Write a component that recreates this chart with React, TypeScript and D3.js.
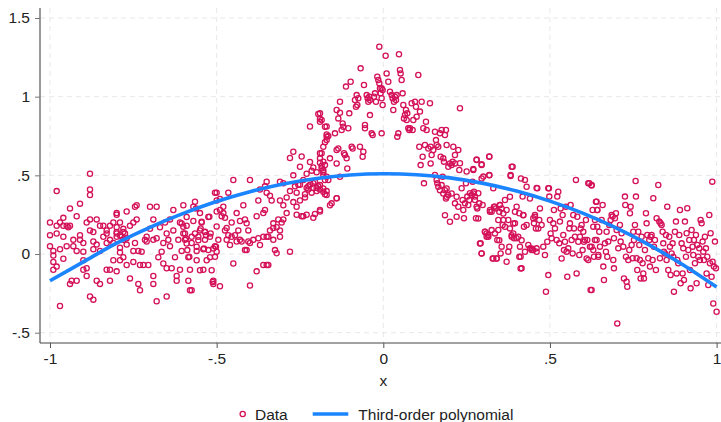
import { useEffect, useRef } from 'react';
import * as d3 from 'd3';

// scatter values, left flank (x < -0.4)
const leftData: [number, number][] = [
  [-1.0,0.2],[-1.0,0.12],[-1.0,0.05],[-0.99,0.02],[-0.99,-0.01],[-0.99,-0.05],[-0.98,-0.08],[-0.99,-0.1],[-0.98,0.13],[-0.98,0.4],
  [-0.97,-0.33],[-0.98,0.18],[-0.97,0.2],[-0.97,0.03],[-0.96,-0.03],[-0.96,0.18],[-0.96,0.23],[-0.96,0.11],[-0.95,0.18],[-0.95,0.05],
  [-0.945,0.17],[-0.94,-0.19],[-0.94,0.29],[-0.935,-0.17],[-0.94,0.18],[-0.93,0.09],[-0.93,0.05],[-0.92,0.02],[-0.92,0.24],[-0.92,-0.17],
  [-0.91,0.12],[-0.91,0.32],[-0.91,0.09],[-0.9,0.07],
  [-0.9,0.015],[-0.9,-0.04],[-0.9,-0.1],[-0.89,-0.09],[-0.89,0.2],[-0.88,0.22],[-0.88,0.51],[-0.88,0.41],[-0.88,0.375],[-0.88,0.15],
  [-0.87,0.14],[-0.87,0.03],[-0.87,0.08],[-0.86,0.22],[-0.86,0.06],[-0.88,-0.27],[-0.87,-0.29],[-0.89,-0.14],[-0.86,-0.17],[-0.85,0.02],
  [-0.85,0.18],[-0.85,-0.19],[-0.84,0.18],[-0.84,0.11],[-0.83,0.15],[-0.83,-0.1],[-0.83,0.13],[-0.83,0.07],[-0.82,0.18],[-0.82,0.09],
  [-0.82,-0.1],[-0.82,-0.17],[-0.81,0.07],[-0.81,0.2],[-0.81,-0.04],[-0.8,0.25],[-0.8,0.26],[-0.8,0.11],[-0.8,0.13],
  [-0.8,0.14],[-0.79,0.04],[-0.79,0.01],[-0.8,-0.11],[-0.79,-0.04],[-0.79,0.2],[-0.78,0.09],[-0.78,0.14],[-0.78,-0.02],[-0.77,-0.07],
  [-0.77,0.27],[-0.77,0.1],[-0.76,-0.155],[-0.76,0.18],[-0.75,0.02],[-0.75,0.2],[-0.75,-0.05],[-0.745,0.3],[-0.745,0.07],[-0.74,0.22],
  [-0.74,0.31],[-0.735,0.02],[-0.735,-0.19],[-0.73,-0.23],[-0.73,-0.07],[-0.725,0.015],[-0.72,-0.07],[-0.715,0.09],[-0.71,0.11],[-0.71,0.08],
  [-0.705,-0.07],[-0.7,0.3],[-0.7,0.16],[-0.8,0.17],[-0.79,0.12],[-0.78,0.16],[-0.785,0.11],[-0.775,0.13],[-0.77,0.06],
  [-0.68,0.3],[-0.69,0.22],[-0.69,0.09],[-0.69,-0.14],[-0.69,-0.19],[-0.68,-0.3],[-0.68,0.1],[-0.675,-0.02],[-0.67,0.17],[-0.665,0.015],
  [-0.66,0.07],[-0.66,-0.06],[-0.655,0.2],[-0.65,-0.27],[-0.65,0.13],[-0.65,-0.09],[-0.645,0.09],[-0.64,0.22],[-0.64,0.05],[-0.635,-0.09],
  [-0.63,0.28],[-0.63,0.15],[-0.625,-0.02],[-0.62,-0.14],[-0.62,-0.17],[-0.615,0.09],[-0.61,-0.1],[-0.61,0.2],[-0.605,0.02],[-0.6,0.13],[-0.6,0.31],
  [-0.595,0.09],[-0.59,0.235],[-0.59,0.18],[-0.585,-0.02],[-0.585,-0.17],[-0.58,-0.1],[-0.575,0.07],[-0.575,-0.23],[-0.57,0.3],[-0.57,0.21],
  [-0.565,0.13],[-0.56,0.02],[-0.56,-0.04],[-0.555,0.11],[-0.55,0.26],[-0.55,0.15],[-0.545,0.2],[-0.54,0.03],[-0.54,-0.1],[-0.535,0.14],
  [-0.535,0.09],[-0.53,-0.04],[-0.525,0.235],[-0.52,-0.02],[-0.52,0.11],[-0.51,-0.19],[-0.51,-0.17],[-0.505,0.39],[-0.505,0.05],[-0.5,0.27],
  [-0.5,0.34],[-0.5,0.015],[-0.49,-0.205],[-0.495,0.09],
  [-0.605,0.194],[-0.6,0.173],[-0.595,0.131],[-0.592,0.099],[-0.59,0.067],[-0.588,0.025],[-0.582,-0.018],[-0.58,-0.23],[-0.575,0.109],[-0.565,0.332],
  [-0.562,0.29],[-0.56,0.046],[-0.555,0.088],[-0.55,-0.103],[-0.548,0.162],[-0.545,0.205],[-0.538,0.035],[-0.535,0.141],[-0.532,0.12],[-0.525,0.025],
  [-0.522,0.237],[-0.518,0.131],[-0.515,-0.103],[-0.512,-0.177],[-0.51,0.035],[-0.505,-0.018],[-0.502,0.046],
  [-0.5,0.39],[-0.5,0.175],[-0.49,0.35],[-0.49,0.28],[-0.485,0.24],[-0.48,0.3],[-0.48,0.26],[-0.475,0.23],[-0.475,0.15],[-0.47,0.165],
  [-0.47,0.09],[-0.465,0.39],[-0.465,0.12],[-0.46,0.057],[-0.455,0.2],[-0.455,0.11],[-0.45,-0.06],[-0.45,0.47],[-0.445,0.12],[-0.44,0.08],
  [-0.435,0.15],[-0.43,0.09],[-0.425,0.08],[-0.42,0.31],[-0.415,0.22],[-0.41,0.195],[-0.41,0.025],[-0.405,0.15],[-0.4,0.07],[-0.4,-0.2],
  [-0.43,0.21],[-0.44,0.26],
];

// from -0.4 through the peak up to about 0.23
const peakData: [number, number][] = [
  [-0.415,0.025],[-0.405,0.08],[-0.39,0.09],[-0.38,-0.11],[-0.38,0.24],[-0.375,0.34],[-0.375,0.1],[-0.37,0.057],[-0.36,-0.07],[-0.36,0.11],
  [-0.36,0.26],[-0.355,0.28],[-0.35,-0.07],[-0.35,0.39],[-0.345,-0.07],[-0.345,0.11],[-0.34,0.37],[-0.34,0.15],[-0.335,0.34],[-0.33,0.195],
  [-0.33,0.09],[-0.325,0.025],[-0.32,0.005],[-0.32,0.17],[-0.315,0.22],[-0.31,0.11],[-0.31,0.15],[-0.31,0.34],[-0.3,0.31],
  [-0.31,0.46],[-0.3,0.45],[-0.28,0.61],[-0.27,0.65],[-0.25,0.555],[-0.245,0.62],[-0.23,0.51],[-0.22,0.585],[-0.215,0.53],[-0.21,0.55],
  [-0.2,0.52],[-0.19,0.64],[-0.19,0.58],[-0.185,0.56],[-0.18,0.52],[-0.18,0.5],[-0.175,0.47],[-0.22,0.81],[-0.195,0.89],[-0.19,0.86],
  [-0.19,0.84],[-0.17,0.81],[-0.17,0.76],[-0.165,0.75],[-0.175,0.71],[-0.28,0.4],[-0.29,0.36],[-0.29,0.26],[-0.26,0.25],[-0.245,0.24],
  [-0.24,0.24],[-0.21,0.23],[-0.26,0.3],[-0.27,0.33],[-0.25,0.34],[-0.235,0.36],[-0.225,0.43],[-0.28,0.015],[-0.3,0.22],[-0.305,0.2],
  [-0.33,0.165],[-0.35,0.11],[-0.27,0.5],[-0.24,0.47],[-0.21,0.45],[-0.2,0.42],
  [-0.22,0.44],[-0.21,0.42],[-0.205,0.46],[-0.2,0.4],[-0.195,0.43],[-0.19,0.41],[-0.215,0.39],[-0.25,0.44],[-0.35,0.46],[-0.4,0.47],
  [-0.355,0.43],[-0.37,0.41],[-0.265,0.43],[-0.26,0.39],[-0.255,0.44],[-0.235,0.38],[-0.23,0.42],[-0.225,0.41],[-0.175,0.38],[-0.17,0.4],
  [-0.16,0.31],[-0.14,0.355],[-0.19,0.27],[-0.23,0.25],[-0.205,0.255],
  [-0.19,0.894],[-0.185,0.852],[-0.175,0.809],[-0.17,0.746],[-0.17,0.724],[-0.18,0.682],[-0.185,0.64],[-0.19,0.608],[-0.18,0.587],[-0.175,0.565],
  [-0.185,0.544],[-0.18,0.534],[-0.17,0.491],[-0.19,0.438],[-0.18,0.417],[-0.18,0.396],[-0.17,0.375],[-0.165,0.47],[-0.16,0.608],[-0.155,0.322],
  [-0.145,0.767],[-0.14,0.576],[-0.14,0.661],[-0.135,0.671],[-0.135,0.862],[-0.14,0.915],[-0.13,0.968],[-0.13,0.898],[-0.13,0.491],[-0.14,0.354],
  [-0.19,0.279],
  [-0.125,0.788],[-0.122,0.83],[-0.12,0.809],[-0.118,0.64],[-0.115,0.629],[-0.112,1.064],[-0.11,0.608],[-0.108,0.544],[-0.105,0.799],[-0.102,0.894],
  [-0.098,1.095],[-0.095,0.682],[-0.092,0.671],[-0.085,0.979],[-0.082,0.936],[-0.08,1.01],[-0.078,0.947],[-0.075,0.99],[-0.07,0.682],[-0.068,1.18],
  [-0.062,0.618],[-0.06,0.65],[-0.058,1.074],[-0.055,0.82],[-0.055,0.799],[-0.05,1.01],[-0.047,0.99],[-0.045,0.968],[-0.042,1.0],[-0.04,0.979],
  [-0.04,0.883],[-0.035,0.767],[-0.032,0.756],[-0.028,1.0],[-0.025,1.021],[-0.022,0.968],[-0.012,1.318],[-0.018,1.127],[-0.015,1.106],[-0.012,1.085],
  [-0.01,1.053],[-0.008,1.021],[-0.005,0.99],[-0.005,0.767],[-0.002,0.947],[-0.002,1.042],[-0.005,1.053],
  [0.007,1.26],[0.01,1.148],[0.015,1.095],[0.02,1.032],[0.025,1.01],[0.028,0.99],[0.03,0.915],[0.032,0.968],[0.035,1.0],[0.038,0.979],
  [0.04,1.01],[0.042,0.746],[0.045,0.767],[0.047,1.27],[0.05,1.17],[0.052,1.148],[0.055,1.106],[0.058,1.021],[0.06,0.947],[0.062,0.862],
  [0.065,0.883],[0.068,0.915],[0.07,0.852],[0.072,0.894],[0.075,0.799],[0.078,0.788],[0.08,0.799],[0.085,0.958],[0.088,0.788],[0.09,0.852],
  [0.095,0.968],[0.098,0.936],[0.1,0.873],[0.105,1.138],[0.108,0.682],[0.11,0.905],[0.112,0.565],[0.115,0.968],[0.118,0.618],[0.12,0.799],
  [0.122,0.449],[0.125,0.693],[0.128,0.841],[0.13,0.788],[0.135,0.671],[0.14,0.958],[0.142,0.682],
  [0.142,0.576],[0.145,0.629],[0.15,0.661],[0.155,0.777],[0.158,0.724],[0.16,0.693],[0.165,0.682],[0.17,0.767],[0.172,0.618],[0.175,0.788],
  [0.178,0.491],[0.18,0.608],[0.182,0.587],[0.185,0.756],[0.188,0.788],[0.19,0.693],[0.195,0.555],[0.2,0.576],[0.205,0.565],[0.208,0.587],
  [0.21,0.682],[0.215,0.576],[0.22,0.364],[0.215,0.629],[0.225,0.661],[0.228,0.534],[0.23,0.926],[0.162,0.449],[0.165,0.428],[0.17,0.406],
  [0.175,0.438],[0.18,0.385],[0.185,0.406],[0.19,0.364],[0.195,0.375],[0.188,0.353],[0.205,0.385],[0.155,0.502],[0.16,0.47],[0.19,0.417],
  [0.185,0.247],[0.2,0.205],[0.22,0.237],[0.225,0.3],[0.215,0.322],
];

// right flank (x > 0.23)
const rightData: [number, number][] = [
  [0.23,0.577],[0.235,0.418],[0.238,0.343],[0.24,0.28],[0.242,0.227],[0.245,0.322],[0.248,0.449],[0.25,0.524],[0.252,0.365],[0.255,0.312],
  [0.258,0.343],[0.26,0.386],[0.265,0.375],[0.268,0.46],[0.27,0.534],[0.272,0.396],[0.275,0.365],[0.278,0.227],[0.28,0.598],[0.282,0.29],
  [0.285,0.386],[0.288,0.322],[0.292,0.068],[0.295,0.566],[0.295,0.004],[0.298,0.312],[0.3,0.492],[0.305,0.142],[0.31,0.11],[0.315,0.121],
  [0.318,0.619],[0.318,0.502],[0.32,0.28],[0.325,0.269],[0.328,-0.028],[0.33,0.418],[0.335,0.301],[0.338,0.29],[0.34,-0.028],[0.342,0.089],
  [0.345,0.153],[0.348,0.269],[0.35,0.312],
  [0.37,0.28],[0.375,0.216],[0.38,0.163],[0.382,0.502],[0.385,0.11],[0.388,0.555],[0.39,0.131],[0.392,0.1],[0.395,0.195],[0.4,0.1],
  [0.405,0.11],[0.408,0.259],[0.41,0.047],[0.412,-0.017],[0.415,-0.091],[0.418,0.365],[0.42,0.248],[0.422,0.174],
  [0.352,0.004],[0.355,0.047],[0.358,0.184],[0.36,0.216],[0.365,0.343],[0.425,0.471],[0.43,0.428],[0.435,0.057],[0.44,0.036],[0.445,0.025],
  [0.45,0.227],[0.452,0.195],[0.455,0.248],[0.458,0.163],[0.46,0.036],[0.462,0.418],[0.465,0.163],[0.468,0.216],[0.47,0.29],[0.475,0.184],
  [0.27,0.385],[0.275,0.343],[0.28,0.3],[0.285,0.226],[0.29,0.067],[0.295,0.004],[0.305,0.141],[0.31,0.131],[0.315,0.11],[0.32,0.269],
  [0.325,0.152],[0.33,-0.028],[0.332,0.3],[0.335,0.131],[0.34,-0.028],[0.345,0.216],[0.348,0.088],[0.35,0.311],[0.355,0.29],[0.36,0.258],
  [0.365,0.173],[0.37,-0.049],[0.375,0.014],[0.378,0.046],[0.38,0.364],[0.385,0.12],[0.39,0.194],[0.395,0.269],[0.4,0.3],[0.408,-0.018],
  [0.412,-0.092],[0.415,0.088],[0.42,0.247],[0.425,0.014],[0.43,0.184],[0.44,0.353],[0.445,0.035],[0.45,0.025],[0.455,0.237],[0.46,0.014],
  [0.28,0.6],[0.318,0.62],[0.295,0.57],[0.27,0.54],[0.385,0.555],[0.382,0.496],[0.413,0.48],[0.318,0.5],[0.295,0.48],[0.615,0.45],
  [0.625,0.435],[0.46,0.42],[0.497,0.418],
  [0.48,0.047],[0.485,-0.006],[0.488,-0.24],[0.492,0.078],[0.495,0.418],[0.495,-0.134],[0.498,0.365],[0.5,0.216],[0.502,0.131],[0.505,0.1],
  [0.51,0.195],[0.512,0.28],[0.515,0.163],[0.52,0.089],[0.522,0.365],[0.525,0.396],[0.528,0.068],[0.53,0.206],[0.532,0.29],[0.535,-0.028],
  [0.538,0.248],[0.54,0.121],[0.542,0.025],[0.545,0.078],[0.548,0.301],[0.55,0.015],[0.552,-0.144],[0.555,0.036],[0.558,0.163],[0.56,0.195],
  [0.562,0.312],[0.565,0.089],[0.568,0.004],[0.57,0.248],[0.572,0.163],[0.575,0.11],[0.578,0.471],[0.58,-0.123],[0.582,0.237],[0.585,0.078],
  [0.588,-0.006],[0.59,0.11],[0.592,0.163],[0.595,0.184],[0.598,0.025],[0.6,0.142],[0.602,0.078],[0.605,0.089],[0.608,0.216],[0.61,-0.028],
  [0.612,0.089],[0.615,-0.038],[0.618,0.449],[0.62,0.047],[0.622,-0.229],[0.625,0.047],[0.628,0.28],[0.63,0.174],[0.632,-0.017],[0.635,0.216],
  [0.638,0.333],[0.64,0.089],[0.642,0.28],[0.645,-0.006],[0.648,0.142],
  [0.625,0.439],[0.625,-0.229],[0.63,0.026],[0.635,0.089],[0.64,0.333],[0.642,0.28],[0.642,0.174],[0.645,-0.017],[0.65,0.047],[0.655,0.216],
  [0.658,0.312],[0.66,-0.08],[0.662,-0.165],[0.665,0.068],[0.668,0.015],[0.67,0.142],[0.672,-0.017],[0.675,0.079],[0.678,0.185],[0.682,0.216],
  [0.685,0.248],[0.688,0.238],[0.69,-0.038],[0.692,0.1],[0.692,-0.091],[0.695,0.227],[0.698,0.259],[0.7,0.153],[0.702,-0.441],[0.705,0.036],
  [0.71,0.185],[0.712,0.079],[0.715,0.132],[0.72,0.047],[0.722,-0.155],[0.725,0.365],[0.726,0.312],[0.728,-0.017],[0.73,-0.176],[0.732,-0.208],
  [0.735,-0.038],[0.738,0.026],[0.74,0.259],[0.742,0.301],[0.745,0.057],[0.748,-0.027],[0.75,0.142],[0.752,0.089],[0.755,0.185],[0.757,0.464],
  [0.758,0.365],[0.76,-0.027],[0.762,-0.102],[0.765,0.142],[0.768,0.057],[0.77,-0.038],[0.772,-0.155],[0.775,0.11],[0.778,-0.059],[0.78,-0.123],
  [0.782,-0.155],[0.785,0.026],[0.788,0.259],[0.79,0.195],[0.792,0.121],[0.795,-0.027],[0.798,0.089],[0.8,-0.08],[0.802,0.11],[0.805,0.121],
  [0.808,-0.038],[0.81,0.354],[0.812,0.047],[0.815,0.089],[0.818,-0.102],[0.82,0.227],[0.825,0.439],[0.828,0.206],[0.83,-0.027],[0.832,0.195],
  [0.835,0.185],[0.838,0.142],[0.84,0.068],[0.842,0.015],[0.845,0.004],[0.848,0.121],[0.85,-0.038],[0.852,0.301],[0.855,-0.102],[0.858,0.11],
  [0.86,0.047],[0.862,-0.133],[0.865,0.004],[0.868,0.068],[0.87,-0.017],[0.872,-0.239],[0.875,0.142],[0.878,0.206],[0.88,-0.123],[0.882,-0.038],
  [0.885,-0.059],[0.888,0.121],[0.89,0.28],[0.892,-0.186],[0.895,0.068],[0.898,-0.123],[0.9,0.036],[0.902,-0.165],[0.905,0.206],[0.908,-0.017],
  [0.91,0.132],[0.912,0.291],[0.915,0.026],[0.918,0.089],[0.92,-0.102],[0.922,-0.218],[0.925,0.153],[0.928,0.047],[0.93,-0.006],[0.932,0.089],
  [0.935,-0.059],[0.938,0.121],[0.94,-0.186],[0.942,0.057],[0.945,-0.017],[0.948,0.036],[0.95,-0.038],[0.952,0.216],[0.955,0.195],[0.958,0.079],
  [0.96,0.015],[0.962,-0.038],[0.965,0.11],[0.968,0.036],[0.97,-0.123],[0.972,-0.017],[0.975,-0.197],[0.978,0.248],[0.98,-0.059],[0.982,0.132],
  [0.985,-0.144],[0.987,0.46],[0.988,-0.049],[0.99,-0.314],[0.992,-0.08],[0.995,0.079],[0.998,-0.091],[1.0,-0.367],
];

// fitted cubic, sampled every 0.1
const fitX = [-1,-0.9,-0.8,-0.7,-0.6,-0.5,-0.4,-0.3,-0.2,-0.1,0,0.1,0.2,0.3,0.4,0.5,0.6,0.7,0.8,0.9,1];
const fitY = [-0.17,-0.05,0.069,0.17,0.258,0.334,0.396,0.445,0.48,0.502,0.51,0.504,0.484,0.449,0.4,0.336,0.258,0.164,0.055,-0.07,-0.21];

const xTicks = [-1, -0.5, 0, 0.5, 1];
const yTicks = [-0.5, 0, 0.5, 1, 1.5];
const legendLabels = ['Data', 'Third-order polynomial'];
const xTitle = 'x';

const dataColor = '#d41159';
const fitColor = '#1a85ff';
const font = "'Liberation Sans', Arial, sans-serif";

const fmt = (v: number) => (v === 0 ? '0' : String(v).replace('0.', '.'));

export default function App() {
  const xAxisRef = useRef<SVGGElement>(null);
  const yAxisRef = useRef<SVGGElement>(null);

  const width = 721;
  const height = 422;
  const axisLeft = 40;
  const axisBottom = 343;
  const plotTop = 8;

  const x = d3.scaleLinear().domain([-1, 1]).range([50, 716.6]);
  const y = d3.scaleLinear().domain([-0.5, 1.5]).range([332.7, 18]);

  const allData = [...leftData, ...peakData, ...rightData];

  const fitLine = d3.line<number>()
    .x((d, i) => x(fitX[i]))
    .y(d => y(d))
    .curve(d3.curveCatmullRom);

  useEffect(() => {
    const xg = d3.select(xAxisRef.current!);
    xg.call(d3.axisBottom(x).tickValues(xTicks).tickSize(5).tickSizeOuter(0).tickPadding(5).tickFormat(d => fmt(+d)));
    xg.select('.domain').remove();
    xg.selectAll('.tick line').attr('stroke', '#555');
    xg.selectAll('.tick text').attr('fill', '#222');
    xg.attr('font-size', 15.5).attr('font-family', font);

    const yg = d3.select(yAxisRef.current!);
    yg.call(d3.axisLeft(y).tickValues(yTicks).tickSize(5).tickSizeOuter(0).tickPadding(5).tickFormat(d => fmt(+d)));
    yg.select('.domain').remove();
    yg.selectAll('.tick line').attr('stroke', '#777');
    yg.selectAll('.tick text').attr('fill', '#222');
    yg.attr('font-size', 15.5).attr('font-family', font);
  }, []);

  return (
    <svg width={width} height={height} style={{ position: 'absolute', left: 0, top: 0, background: '#fff' }}>
      <g stroke="#e8e8e8" strokeWidth={1} strokeDasharray="5,4">
        {yTicks.map(t => (
          <line key={'gy' + t} x1={axisLeft} x2={width} y1={y(t)} y2={y(t)} />
        ))}
        {xTicks.map(t => (
          <line key={'gx' + t} x1={x(t)} x2={x(t)} y1={plotTop} y2={axisBottom} />
        ))}
      </g>

      <g fill="none" stroke={dataColor} strokeWidth={1.3}>
        {allData.map((d, i) => (
          <circle key={i} cx={x(d[0])} cy={y(d[1])} r={2.6} />
        ))}
      </g>

      <path d={fitLine(fitY) ?? ''} fill="none" stroke={fitColor} strokeWidth={3.6} strokeLinecap="butt" />

      <line x1={axisLeft} x2={axisLeft} y1={plotTop} y2={axisBottom} stroke="#777" strokeWidth={1.5} />
      <line x1={axisLeft} x2={width} y1={axisBottom} y2={axisBottom} stroke="#444" strokeWidth={1} />
      <g ref={xAxisRef} transform={`translate(0,${axisBottom})`} />
      <g ref={yAxisRef} transform={`translate(${axisLeft},0)`} />

      <text x={383.3} y={386} textAnchor="middle" fontFamily={font} fontSize={15.5} fill="#222">{xTitle}</text>

      <g fontFamily={font} fontSize={15.5} fill="#222">
        <circle cx={242.7} cy={414} r={2.6} fill="none" stroke={dataColor} strokeWidth={1.3} />
        <text x={255} y={419.5}>{legendLabels[0]}</text>
        <line x1={312.7} x2={348.3} y1={414} y2={414} stroke={fitColor} strokeWidth={3.6} />
        <text x={358.3} y={419.5}>{legendLabels[1]}</text>
      </g>
    </svg>
  );
}
